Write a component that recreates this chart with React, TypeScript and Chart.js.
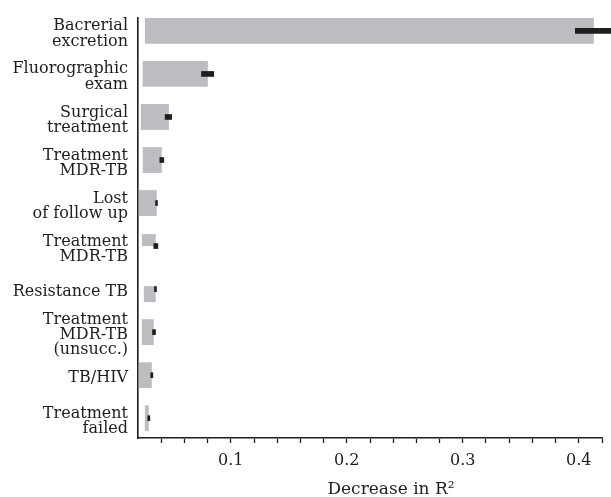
import React, { useEffect, useRef } from "react";
import { Chart, registerables } from "chart.js";

Chart.register(...registerables);

// ---- data ----
const categories: string[][] = [
  ["Bacrerial", "excretion"],
  ["Fluorographic", "exam"],
  ["Surgical", "treatment"],
  ["Treatment", "MDR-TB"],
  ["Lost", "of follow up"],
  ["Treatment", "MDR-TB"],
  ["Resistance TB"],
  ["Treatment", "MDR-TB", "(unsucc.)"],
  ["TB/HIV"],
  ["Treatment", "failed"],
];
const barStart = [0.026, 0.024, 0.0224, 0.0241, 0.0207, 0.0233, 0.025, 0.0233, 0.0207, 0.0259];
const barEnd = [0.413, 0.0802, 0.0466, 0.0405, 0.0362, 0.0353, 0.0353, 0.0336, 0.0319, 0.0293];
const errLow = [0.397, 0.0747, 0.0434, 0.0388, 0.0351, 0.0336, 0.0342, 0.0325, 0.031, 0.0284];
const errHigh = [0.429, 0.0853, 0.049, 0.0422, 0.0368, 0.0371, 0.0359, 0.0351, 0.0328, 0.0302];
const xMajorTicks = [0.1, 0.2, 0.3, 0.4];
const xMin = 0.02;
const xMax = 0.42;
const xStep = 0.02;
const xTitle = "Decrease in R²";

// categories drawn with their own (offset) bar geometry
const UPPER_IDX = 5;
const LOWER_IDX = 6;

const GRAY = "#bdbdc1";
const INK = "#1e1e1e";
const FONT = "'DejaVu Serif', serif";

export default function App() {
  const ref = useRef<HTMLCanvasElement>(null);

  useEffect(() => {
    const idx = categories.map((_, i) => i);
    const mainData = idx
      .filter((i) => i !== UPPER_IDX && i !== LOWER_IDX)
      .map((i) => ({ y: i, x: [barStart[i], barEnd[i]] }));
    const errData = idx.map((i) => ({ y: i, x: [errLow[i], errHigh[i]] }));

    const chart = new Chart(ref.current!, {
      type: "bar",
      data: {
        datasets: [
          {
            label: "err",
            data: errData as any,
            backgroundColor: INK,
            grouped: false,
            categoryPercentage: 1,
            barPercentage: 1,
            maxBarThickness: 5,
            clip: false as any,
            order: 0,
          },
          {
            label: "main",
            data: mainData as any,
            backgroundColor: GRAY,
            grouped: false,
            categoryPercentage: 1,
            barPercentage: 0.6,
            order: 1,
          },
          {
            label: "upper",
            data: [{ y: UPPER_IDX, x: [barStart[UPPER_IDX], barEnd[UPPER_IDX]] }] as any,
            backgroundColor: GRAY,
            grouped: true,
            categoryPercentage: 24 / 43,
            barPercentage: 1,
            order: 1,
          },
          {
            label: "lower",
            data: [{ y: LOWER_IDX, x: [barStart[LOWER_IDX], barEnd[LOWER_IDX]] }] as any,
            backgroundColor: GRAY,
            grouped: true,
            categoryPercentage: 20 / 43,
            barPercentage: 1.6,
            order: 1,
          },
        ],
      },
      options: {
        indexAxis: "y",
        responsive: false,
        animation: false,
        layout: { padding: { top: 18, right: 9, left: 0, bottom: 0 } },
        plugins: { legend: { display: false }, tooltip: { enabled: false } },
        scales: {
          y: {
            type: "linear",
            reverse: true,
            offset: false,
            min: -0.3,
            max: 9.46,
            afterFit: (s: any) => {
              s.width = 138;
            },
            grid: { display: false, drawTicks: true, tickLength: 10, offset: false },
            border: { display: true, color: INK, width: 1.6 },
            ticks: {
              stepSize: 1,
              includeBounds: false,
              autoSkip: false,
              padding: 0,
              labelOffset: 3,
              color: INK,
              font: { family: FONT, size: 16, lineHeight: 0.95 },
              callback: (v: any) => categories[Math.round(v)] ?? "",
            },
          },
          x: {
            type: "linear",
            min: xMin,
            max: xMax,
            afterFit: (s: any) => {
              s.height = 59;
            },
            grid: {
              drawOnChartArea: false,
              drawTicks: true,
              tickLength: 5,
              tickWidth: 1.3,
              tickColor: (ctx: any) =>
                ctx.tick && Math.abs(ctx.tick.value - xMin) < 1e-9 ? "rgba(0,0,0,0)" : INK,
            },
            border: { display: true, color: INK, width: 1.6 },
            ticks: {
              stepSize: xStep,
              autoSkip: false,
              maxRotation: 0,
              includeBounds: false,
              padding: 8,
              color: INK,
              font: { family: FONT, size: 16 },
              callback: (v: any) => {
                const m = xMajorTicks.find((t) => Math.abs(t - v) < 1e-9);
                return m !== undefined ? m.toFixed(1) : "";
              },
            },
          },
        },
      },
    });
    return () => chart.destroy();
  }, []);

  return (
    <div style={{ position: "fixed", left: 0, top: 0, width: 611, height: 497, background: "#fff" }}>
      <canvas ref={ref} width={611} height={497} style={{ display: "block" }} />
      <div
        style={{
          position: "absolute",
          left: 391,
          top: 480,
          transform: "translateX(-50%)",
          fontFamily: FONT,
          fontSize: 17,
          lineHeight: 1,
          whiteSpace: "nowrap",
          color: INK,
        }}
      >
        {xTitle}
      </div>
    </div>
  );
}
